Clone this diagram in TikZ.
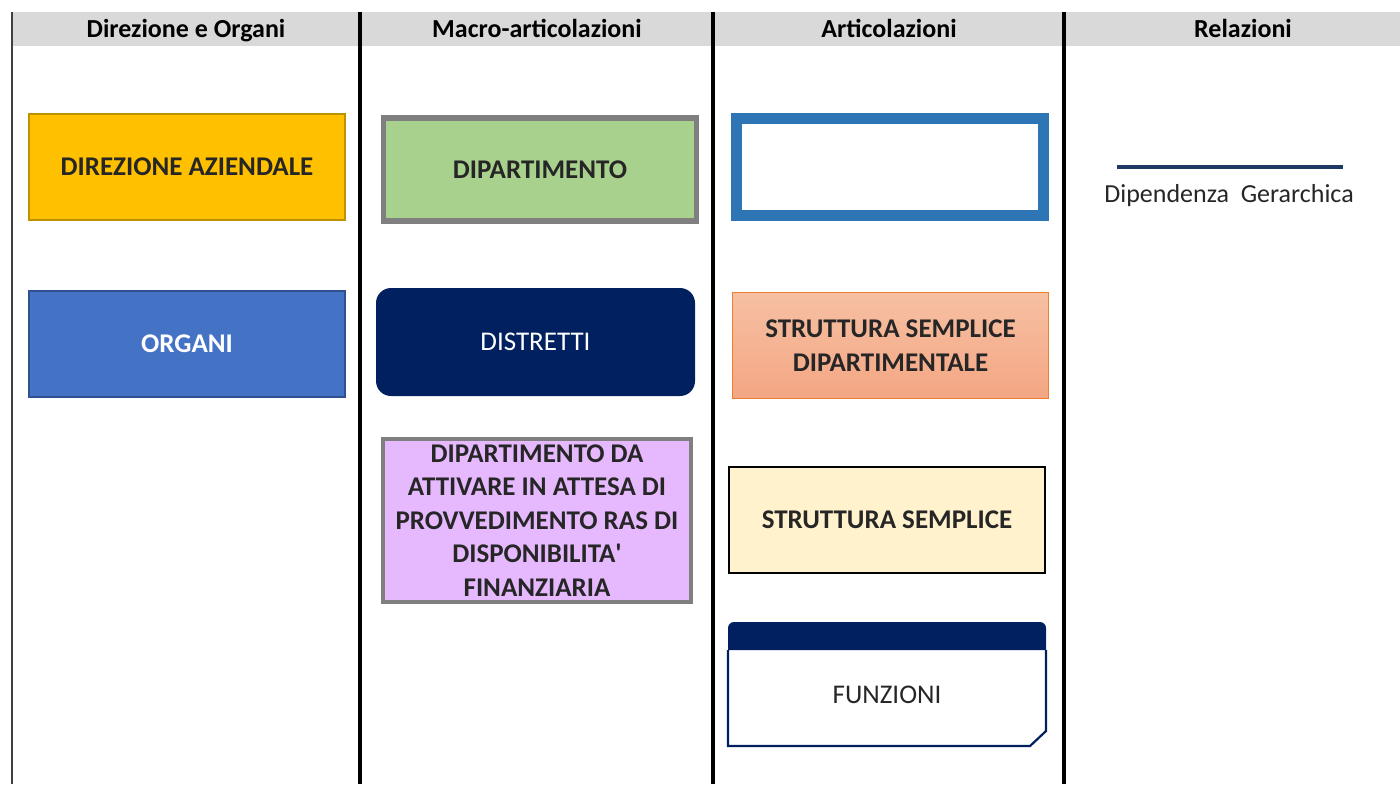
\documentclass[tikz,border=0pt]{standalone}
\usepackage{fontspec}
\setmainfont{Carlito}
\usepackage{xcolor}
\usepackage{tikz}
\usetikzlibrary{positioning}
\definecolor{headgray}{HTML}{D9D9D9}
\definecolor{txtdark}{HTML}{262626}
\definecolor{gold}{HTML}{FFC000}
\definecolor{golddark}{HTML}{BF9000}
\definecolor{organiblue}{HTML}{4472C4}
\definecolor{organiedge}{HTML}{2F528F}
\definecolor{dipgreen}{HTML}{A9D18E}
\definecolor{boxgray}{HTML}{7F7F7F}
\definecolor{navy}{HTML}{002060}
\definecolor{lavender}{HTML}{E6B9FE}
\definecolor{midblue}{HTML}{2E75B6}
\definecolor{peachtop}{HTML}{F6C0A3}
\definecolor{peachbot}{HTML}{F4A683}
\definecolor{peachedge}{HTML}{ED7D31}
\definecolor{cream}{HTML}{FFF2CC}
\definecolor{legendblue}{HTML}{1F3864}
\tikzset{colhead/.style={font=\bfseries\fontsize{13}{15}\selectfont, text=black, anchor=base}}
\tikzset{colsep/.style={line width=1.6pt, black}}
\tikzset{unitbox/.style={minimum width=158pt, minimum height=53pt, inner sep=0pt, align=center,
  font=\bfseries\fontsize{13.5}{16.7}\selectfont, text=txtdark}}

\begin{document}
\begin{tikzpicture}[x=0.5pt, y=-0.5pt]
{
\useasboundingbox (0,0) rectangle (1400,784);
\fill[headgray] (12,12) rectangle (1400,46);
% separatori di colonna
\draw[line width=1pt, black!75] (12,12) -- (12,784);
\foreach \xc in {360,713,1064}
  \draw[colsep] (\xc,12) -- (\xc,784);
\node[colhead] (hdir) at (186,37) {Direzione e Organi};
\node[colhead] (hmac) at (537,37) {Macro-articolazioni};
\node[colhead] (hart) at (889,37) {Articolazioni};
\node[colhead] (hrel) at (1243,37) {Relazioni};
% Direzione e Organi
\node[unitbox, fill=gold, draw=golddark, line width=1pt] (diraz) at (187,167) {DIREZIONE AZIENDALE};
\node[unitbox, fill=organiblue, draw=organiedge, line width=1pt, text=white] (organi) at (187,344) {ORGANI};
% Macro-articolazioni
\node[unitbox, fill=dipgreen, draw=boxgray, line width=2.6pt, minimum width=156.6pt, minimum height=51.5pt] (dip) at (540,169.5) {DIPARTIMENTO};
\node[unitbox, fill=navy, rounded corners=7.5pt, text=white, font=\fontsize{13.5}{16}\selectfont, minimum width=159.5pt, minimum height=54pt] (distr) at (535.5,342) {DISTRETTI};
\node[unitbox, fill=lavender, draw=boxgray, line width=2.4pt, minimum width=154pt, minimum height=81.5pt] (dipatt) at (537,520.5)
  {DIPARTIMENTO DA\\ATTIVARE IN ATTESA DI\\PROVVEDIMENTO RAS DI\\DISPONIBILITA\textquotesingle\\FINANZIARIA};
% Articolazioni
\node[unitbox, draw=midblue, line width=5.5pt, minimum width=153.5pt, minimum height=48.5pt] (vuoto) at (889.5,166.5) {};
\node[unitbox, top color=peachtop, bottom color=peachbot, draw=peachedge, line width=0.8pt] (ssd) at (890.5,345.5)
  {STRUTTURA SEMPLICE\\DIPARTIMENTALE};
\node[unitbox, fill=cream, draw=black, line width=1.1pt] (ss) at (887,520) {STRUTTURA SEMPLICE};
\fill[navy] (728,650) {[rounded corners=3pt] -- (728,622) -- (1046,622)} -- (1046,650) -- cycle;
\draw[navy, line width=1.1pt] (728,650) -- (728,746) -- (1030,746) -- (1046,731) -- (1046,650);
\node[font=\fontsize{13.5}{16}\selectfont, text=txtdark] (funz) at (887,695) {FUNZIONI};
% Relazioni
\coordinate (legA) at (1117,167);
\coordinate (legB) at (1343,167);
\draw[legendblue, line width=2pt] (legA) -- (legB);
\node[font=\fontsize{13}{15}\selectfont, text=txtdark] (dipger) at (1229,196) {Dipendenza\ \ Gerarchica};
}
\end{tikzpicture}
\end{document}
